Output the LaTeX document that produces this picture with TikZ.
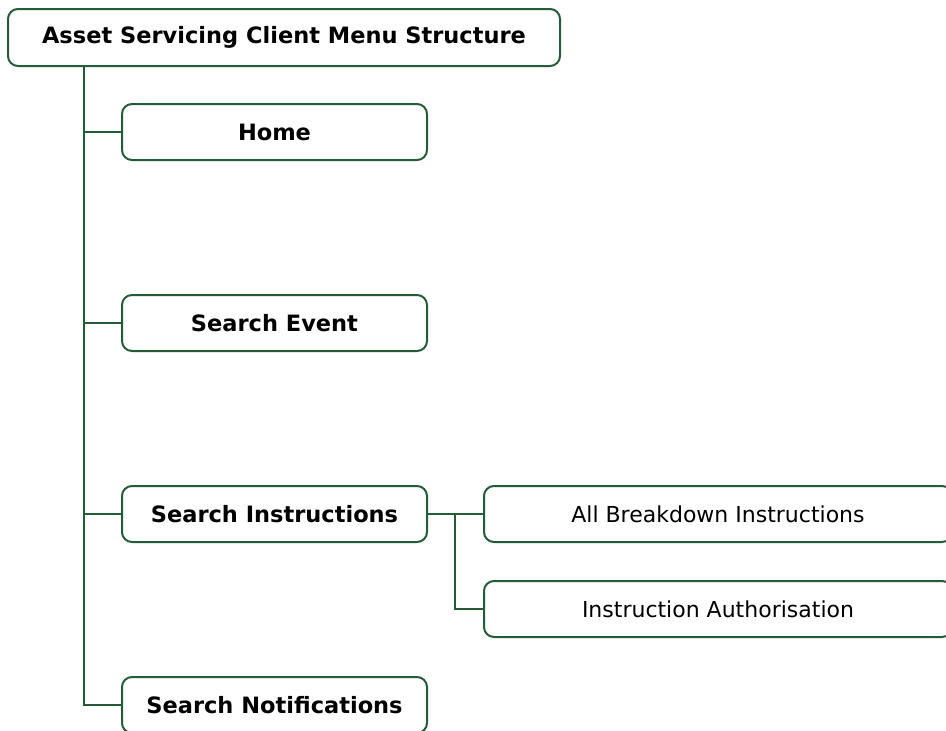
\documentclass[tikz,border=0pt]{standalone}
\usepackage{fontspec}
\setmainfont{DejaVu Sans}
\usepackage{tikz}
\usetikzlibrary{positioning}

\definecolor{menugreen}{HTML}{245C38}

\tikzset{
    menubox/.style={draw=menugreen, line width=2pt, rounded corners=10pt,
        fill=white, inner sep=0pt, align=center},
    topbox/.style={menubox, minimum width=552pt, minimum height=57pt,
        font=\fontsize{22.5}{26}\selectfont\bfseries},
    itembox/.style={menubox, minimum width=305pt, minimum height=56pt,
        font=\fontsize{22.5}{26}\selectfont\bfseries},
    subbox/.style={menubox, minimum width=468pt, minimum height=56pt,
        font=\fontsize{22}{26}\selectfont},
    link/.style={draw=menugreen, line width=1.6pt}
}

\begin{document}
\begin{tikzpicture}[x=1pt, y=-1pt]
    \useasboundingbox (0, 0) rectangle (946, 731);
    \clip (0, 0) rectangle (946, 731);

    % menu root
    \node[topbox] (root) at (284, 37.5) {Asset Servicing Client Menu Structure};

    % first level entries
    \node[itembox] (home) at (274.5, 132) {Home};
    \node[itembox] (event) at (274.5, 323) {Search Event};
    \node[itembox] (instr) at (274.5, 514) {Search Instructions};
    \node[itembox] (notif) at (274.5, 705) {Search Notifications};

    % sub entries of Search Instructions
    \node[subbox] (breakdown) at (718, 514) {All Breakdown Instructions};
    \node[subbox] (authorise) at (718, 609) {Instruction Authorisation};

    % trunk and branches
    \coordinate (trunk) at (84, 66);
    \draw[link] (trunk) |- (notif.west);
    \draw[link] (trunk |- home.west) -- (home.west);
    \draw[link] (trunk |- event.west) -- (event.west);
    \draw[link] (trunk |- instr.west) -- (instr.west);

    \coordinate (fork) at (455, 514);
    \draw[link] (instr.east) -- (breakdown.west);
    \draw[link] (fork) |- (authorise.west);
\end{tikzpicture}
\end{document}
